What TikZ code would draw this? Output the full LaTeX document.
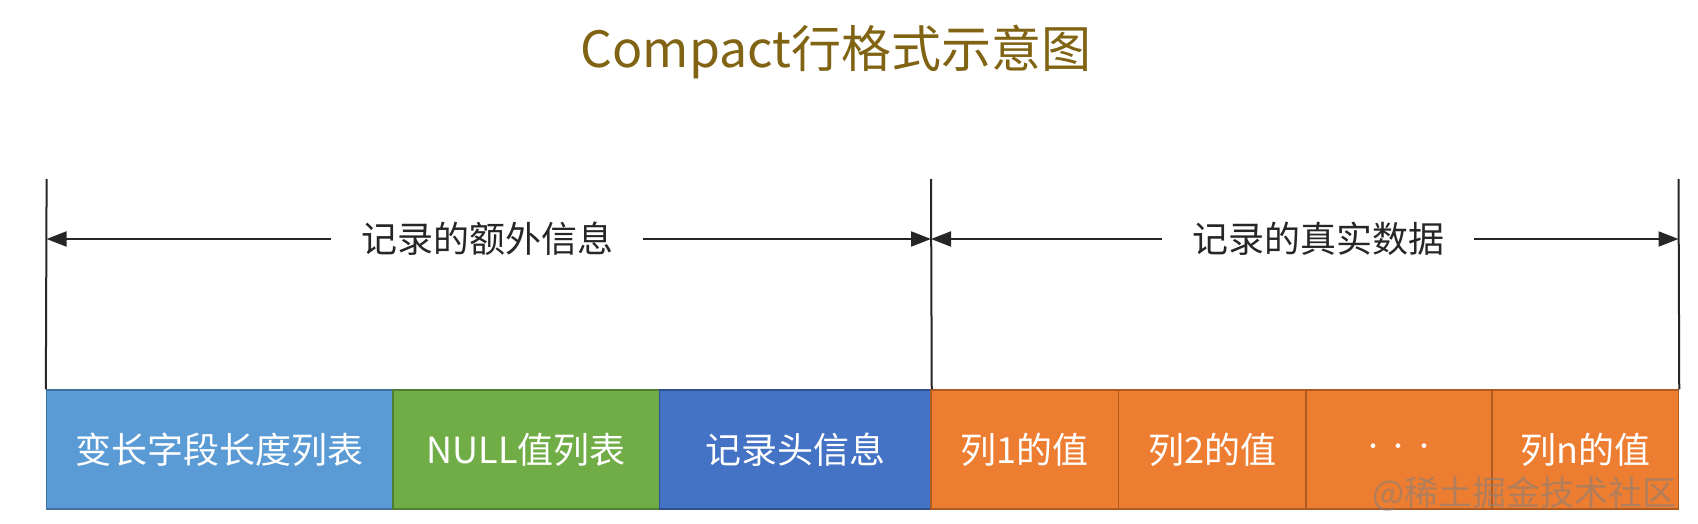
\documentclass[tikz,border=0pt]{standalone}
\usepackage{fontspec}
\setmainfont{Noto Sans CJK SC}
\usetikzlibrary{arrows.meta}
\definecolor{titlec}{RGB}{128,100,20}
\definecolor{bluef}{HTML}{5B9BD5}\definecolor{blued}{HTML}{41719C}
\definecolor{greenf}{HTML}{70AD47}\definecolor{greend}{HTML}{507E32}
\definecolor{dbluef}{HTML}{4472C4}\definecolor{dblued}{HTML}{2F528F}
\definecolor{orangef}{HTML}{ED7D31}\definecolor{oranged}{HTML}{AE5A21}
\definecolor{labc}{HTML}{262626}
\tikzset{
  cell/.style={inner sep=0pt, minimum height=119pt, text=white,
    font=\fontsize{36}{36}\selectfont, line width=1.5pt},
  guide/.style={line width=2pt, draw=labc},
  dimarrow/.style={line width=2pt, draw=labc, -{Triangle[length=20pt,width=15pt]}},
  span/.style={inner xsep=30pt, inner ysep=0pt, text=labc, font=\fontsize{36}{36}\selectfont}
}
\begin{document}
\begin{tikzpicture}[x=1pt,y=-1pt]
\useasboundingbox[fill=white] (0,0) rectangle (1698,524);
\node[font=\fontsize{50}{50}\selectfont, text=titlec] (title) at (836,52) {Compact行格式示意图};

\node[cell, fill=bluef, draw=blued, minimum width=346.4pt] (b1) at (219.8,449.5) {变长字段长度列表};
\node[cell, fill=greenf, draw=greend, minimum width=266.5pt] (b2) at (526.25,449.5) {NULL值列表};
\node[cell, fill=dbluef, draw=dblued, minimum width=271.5pt] (b3) at (795.25,449.5) {记录头信息};
\node[cell, fill=orangef, draw=oranged, minimum width=187.6pt] (b4) at (1024.8,449.5) {列1的值};
\node[cell, fill=orangef, draw=oranged, minimum width=187.4pt] (b5) at (1212.3,449.5) {列2的值};
\node[cell, fill=orangef, draw=oranged, minimum width=186pt] (b6) at (1399,449.5) {\fontsize{22}{22}\selectfont ·\,·\,·};
\node[cell, fill=orangef, draw=oranged, minimum width=186.5pt] (b7) at (1585.25,449.5) {列n的值};

\coordinate (t1) at (46.6,179);
\coordinate (t2) at (931,179);
\coordinate (t3) at (1678.5,179);
\draw[guide] (t1) -- (b1.north west);
\draw[guide] (t2) -- (b3.north east);
\draw[guide] (t3) -- (b7.north east);

\coordinate (a1) at (46.6,239);
\coordinate (a2) at (931,239);
\coordinate (a3) at (1678.5,239);
\node[span] (l1) at (487,239) {记录的额外信息};
\node[span] (l2) at (1318,239) {记录的真实数据};
\draw[dimarrow] (l1.west) -- (a1);
\draw[dimarrow] (l1.east) -- (a2);
\draw[dimarrow] (l2.west) -- (a2);
\draw[dimarrow] (l2.east) -- (a3);

\node[anchor=east, text=gray, opacity=0.55, font=\fontsize{34}{34}\selectfont] (wm) at (1680,494) {@稀土掘金技术社区};
\end{tikzpicture}
\end{document}
